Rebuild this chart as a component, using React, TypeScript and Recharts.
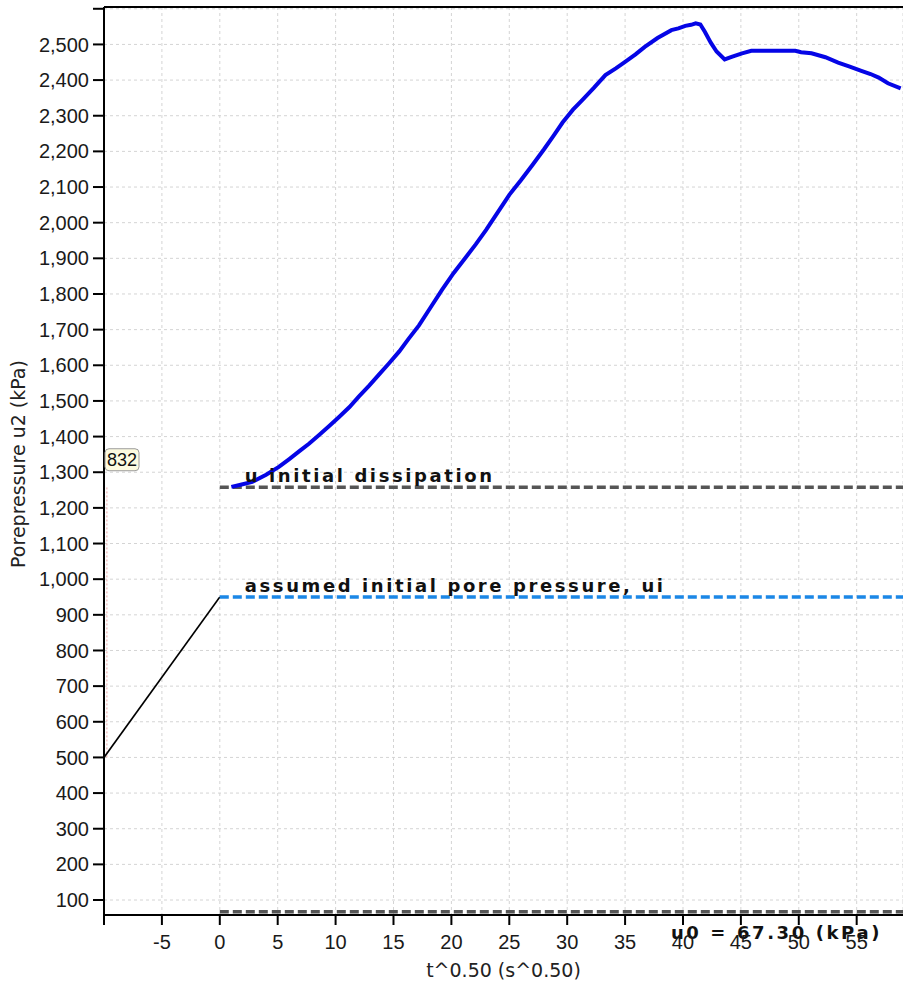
import React from 'react';
import {
  LineChart,
  Line,
  XAxis,
  YAxis,
  CartesianGrid,
  ReferenceLine,
  ReferenceDot,
} from 'recharts';

const tValues = [
  1.0, 1.8, 2.8, 4.0, 5.1, 6.0, 6.9, 7.7, 8.6, 9.4,
  10.3, 11.2, 12.0, 12.9, 13.8, 14.6, 15.5, 16.3, 17.2, 18.2,
  19.2, 20.2, 21.2, 22.1, 23.0, 24.0, 25.0, 26.0, 27.0, 28.0,
  28.8, 29.6, 30.5, 31.3, 32.3, 33.3, 34.2, 35.0, 35.9, 36.7,
  37.8, 39.0, 39.6, 40.2, 40.7, 41.1, 41.5, 41.9, 42.4, 42.9,
  43.6, 44.2, 45.1, 45.9, 47.5, 49.7, 50.2, 51.1, 52.3, 53.4,
  54.4, 55.4, 56.2, 56.9, 57.7, 58.8,
];
const u2Values = [
  1259, 1265, 1273, 1293, 1315, 1337, 1360, 1380, 1405, 1428,
  1455, 1483, 1512, 1543, 1576, 1605, 1639, 1674, 1712, 1762,
  1812, 1859, 1901, 1939, 1980, 2029, 2078, 2119, 2162, 2206,
  2243, 2281, 2317, 2344, 2378, 2414, 2433, 2451, 2472, 2493,
  2518, 2540, 2545, 2552, 2555, 2559, 2556, 2535, 2505, 2480,
  2458, 2465, 2475, 2482, 2482, 2482, 2478, 2475, 2464, 2449,
  2438, 2426, 2417, 2407, 2391, 2377,
];

// ramp from penetration stop to assumed ui
const rampT = [-10, 0];
const rampU = [500, 950];

const uInitialDissipation = 1258;
const assumedUi = 950;
const u0 = 67.3;

const markerT = -9.75;
const markerU = [500, 1258];
const calloutU = 1335;
const calloutText = '832';

const xTicks = [-10, -5, 0, 5, 10, 15, 20, 25, 30, 35, 40, 45, 50, 55];
const yTicks = [
  100, 200, 300, 400, 500, 600, 700, 800, 900, 1000, 1100, 1200, 1300,
  1400, 1500, 1600, 1700, 1800, 1900, 2000, 2100, 2200, 2300, 2400, 2500, 2600,
];

const X_MIN = -10;
const X_MAX = 59;
const Y_MIN = 58;
const Y_MAX = 2605;

const axisFont = '"Liberation Sans", Arial, sans-serif';
const titleFont = '"DejaVu Sans", Verdana, sans-serif';
const annoFont = '"DejaVu Sans", Verdana, sans-serif';

const curve = tValues.map((t, i) => ({ t, u: u2Values[i] }));
const ramp = rampT.map((t, i) => ({ t, u: rampU[i] }));

const annotation =
  (text: string, dx: number, dy: number, anchor: 'start' | 'end' = 'start') =>
  (props: any) => {
    const vb = props.viewBox || {};
    const x = anchor === 'end' ? vb.x + vb.width + dx : vb.x + dx;
    return (
      <text
        x={x}
        y={vb.y + dy}
        textAnchor={anchor}
        fontFamily={annoFont}
        fontWeight="bold"
        fontSize={18}
        letterSpacing={2.6}
        fill="#111"
      >
        {text}
      </text>
    );
  };

const yTitle = (props: any) => {
  const vb = props.viewBox || {};
  const cx = vb.x + 25;
  const cy = vb.y + vb.height / 2 + 3;
  return (
    <text
      x={cx}
      y={cy}
      transform={`rotate(-90, ${cx}, ${cy})`}
      textAnchor="middle"
      fontFamily={titleFont}
      fontSize={19}
      fill="#222"
    >
      Porepressure u2 (kPa)
    </text>
  );
};

export default function App() {
  return (
    <div style={{ position: 'absolute', left: 0, top: 0, background: '#fff' }}>
      <LineChart
        width={903}
        height={983}
        margin={{ top: 7, right: 0, bottom: 0, left: 0 }}
      >
        <CartesianGrid stroke="#d4d4d4" strokeDasharray="3 3" />
        <XAxis
          type="number"
          dataKey="t"
          domain={[X_MIN, X_MAX]}
          ticks={xTicks}
          interval={0}
          allowDataOverflow
          height={68}
          tickSize={10}
          tickMargin={10}
          stroke="#000"
          axisLine={{ stroke: '#000', strokeWidth: 2 }}
          tickLine={{ stroke: '#000', strokeWidth: 2 }}
          tick={{ fontSize: 20, fill: '#1a1a1a', fontFamily: axisFont }}
          tickFormatter={(v: number) => (v === -10 ? '' : String(v))}
          label={{
            value: 't^0.50 (s^0.50)',
            position: 'insideBottom',
            offset: 6,
            fontSize: 19,
            fill: '#222',
            fontFamily: titleFont,
          }}
        />
        <YAxis
          type="number"
          domain={[Y_MIN, Y_MAX]}
          ticks={yTicks}
          interval={0}
          allowDataOverflow
          width={104}
          tickSize={11}
          tickMargin={4}
          stroke="#000"
          axisLine={{ stroke: '#000', strokeWidth: 2 }}
          tickLine={{ stroke: '#000', strokeWidth: 2 }}
          tick={{ fontSize: 20, fill: '#1a1a1a', fontFamily: axisFont }}
          tickFormatter={(v: number) => (v === 2600 ? '' : v.toLocaleString('en-US'))}
          label={yTitle}
        />
        <ReferenceLine y={Y_MAX} stroke="#000" strokeWidth={2} ifOverflow="visible" />
        <ReferenceLine
          segment={[
            { x: markerT, y: markerU[0] },
            { x: markerT, y: markerU[1] },
          ]}
          stroke="#e8a4a4"
          strokeWidth={1}
          strokeDasharray="2 2"
        />
        <Line
          data={ramp}
          dataKey="u"
          type="linear"
          stroke="#000"
          strokeWidth={1.6}
          dot={false}
          isAnimationActive={false}
        />
        <ReferenceLine
          segment={[
            { x: 0, y: uInitialDissipation },
            { x: X_MAX, y: uInitialDissipation },
          ]}
          stroke="#555"
          strokeWidth={3.5}
          strokeDasharray="9 4"
        />
        <ReferenceLine
          segment={[
            { x: 0, y: assumedUi },
            { x: X_MAX, y: assumedUi },
          ]}
          stroke="#1b87e6"
          strokeWidth={3.5}
          strokeDasharray="9 4"
        />
        <ReferenceLine
          segment={[
            { x: 0, y: u0 },
            { x: X_MAX, y: u0 },
          ]}
          stroke="#555"
          strokeWidth={3.5}
          strokeDasharray="9 4"
        />
        <Line
          data={curve}
          dataKey="u"
          type="linear"
          stroke="#0505e6"
          strokeWidth={4}
          dot={false}
          isAnimationActive={false}
        />
        <ReferenceLine
          segment={[
            { x: 0, y: uInitialDissipation },
            { x: X_MAX, y: uInitialDissipation },
          ]}
          stroke="none"
          label={annotation('u initial dissipation', 25, -5)}
        />
        <ReferenceLine
          segment={[
            { x: 0, y: assumedUi },
            { x: X_MAX, y: assumedUi },
          ]}
          stroke="none"
          label={annotation('assumed initial pore pressure, ui', 25, -5)}
        />
        <ReferenceLine
          segment={[
            { x: 0, y: u0 },
            { x: X_MAX, y: u0 },
          ]}
          stroke="none"
          label={annotation(`u0 = ${u0.toFixed(2)} (kPa)`, -21, 27, 'end')}
        />
        <ReferenceDot
          x={X_MIN}
          y={calloutU}
          r={0}
          ifOverflow="visible"
          shape={(p: any) => (
            <g>
              <rect
                x={p.cx + 1}
                y={p.cy - 11}
                width={34}
                height={22}
                rx={4}
                fill="#fdfbe0"
                stroke="#9a9a9a"
                strokeWidth={1}
              />
              <text
                x={p.cx + 18}
                y={p.cy + 6.5}
                textAnchor="middle"
                fontFamily={axisFont}
                fontSize={18}
                fill="#111"
              >
                {calloutText}
              </text>
            </g>
          )}
        />
      </LineChart>
    </div>
  );
}
